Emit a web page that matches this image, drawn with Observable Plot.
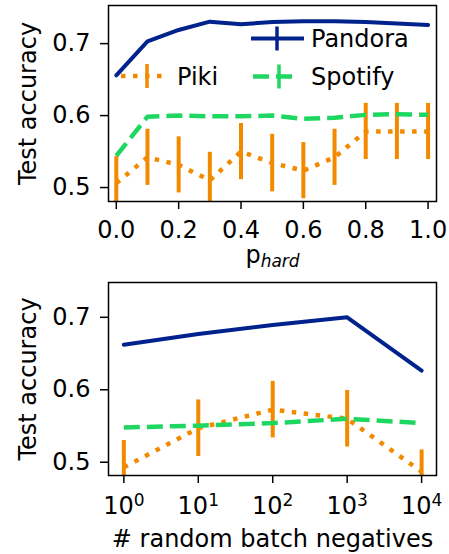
<!DOCTYPE html>
<html>
<head>
<meta charset="utf-8">
<script src="https://cdn.jsdelivr.net/npm/d3@7"></script>
<script src="https://cdn.jsdelivr.net/npm/@observablehq/plot@0.6"></script>
<style>
  html, body { margin: 0; padding: 0; background: #fff; }
  #chart { width: 449px; height: 554px; }
  #chart svg { display: block; }
</style>
</head>
<body>
<div id="chart"></div>
<script>
// ---------- data ----------
const pHard = [0.0, 0.1, 0.2, 0.3, 0.4, 0.5, 0.6, 0.7, 0.8, 0.9, 1.0];
const pandoraHard = [0.656, 0.703, 0.719, 0.7305, 0.727, 0.730, 0.731, 0.731, 0.730, 0.728, 0.726];
const spotifyHard = [0.544, 0.5985, 0.600, 0.599, 0.599, 0.600, 0.5955, 0.597, 0.601, 0.602, 0.601];
const pikiHard = [0.506, 0.542, 0.5315, 0.510, 0.550, 0.534, 0.5235, 0.542, 0.578, 0.578, 0.578];
const pikiHardErr = [0.037, 0.039, 0.039, 0.039, 0.039, 0.040, 0.039, 0.039, 0.039, 0.039, 0.039];

const negatives = [1, 10, 100, 1000, 10000];
const pandoraNeg = [0.662, 0.677, 0.6895, 0.700, 0.6265];
const spotifyNeg = [0.548, 0.5505, 0.554, 0.560, 0.554];
const pikiNeg = [0.493, 0.547, 0.5725, 0.560, 0.487];
const pikiNegErr = [0.037, 0.039, 0.039, 0.039, 0.030];

const yTicks = [0.5, 0.6, 0.7];
const xTicksHard = [0.0, 0.2, 0.4, 0.6, 0.8, 1.0];

const C_PANDORA = "#00228c";
const C_SPOTIFY = "#1ed760";
const C_PIKI = "#f28a00";
const FONT = "DejaVu Sans";

// ---------- helpers ----------
const rows = (xs, ys, errs) => xs.map((x, i) => ({x, y: ys[i], lo: errs ? ys[i] - errs[i] : null, hi: errs ? ys[i] + errs[i] : null}));

function seriesMarks(pand, piki, spot) {
  return [
    Plot.line(pand, {x: "x", y: "y", stroke: C_PANDORA, strokeWidth: 4, clip: true}),
    Plot.line(piki, {x: "x", y: "y", stroke: C_PIKI, strokeWidth: 4.5, strokeDasharray: "4.5,7.5", strokeLinecap: "butt", clip: true}),
    Plot.ruleX(piki, {x: "x", y1: "lo", y2: "hi", stroke: C_PIKI, strokeWidth: 4, clip: true}),
    Plot.line(spot, {x: "x", y: "y", stroke: C_SPOTIFY, strokeWidth: 4.5, strokeDasharray: "16,7", strokeLinecap: "butt", clip: true})
  ];
}

const common = {
  width: 449,
  marginLeft: 108,
  marginRight: 13,
  style: {fontFamily: FONT, fontSize: "24px", color: "black", background: "white", overflow: "visible"}
};

// ---------- top panel ----------
const topPlot = Plot.plot({
  ...common,
  height: 280,
  marginTop: 5,
  marginBottom: 79,
  x: {domain: [-0.025, 1.027]},
  y: {domain: [0.4806, 0.753]},
  marks: [
    ...seriesMarks(rows(pHard, pandoraHard), rows(pHard, pikiHard, pikiHardErr), rows(pHard, spotifyHard)),
    Plot.frame({stroke: "black", strokeWidth: 1.5}),
    Plot.axisY({ticks: yTicks, tickFormat: d => d.toFixed(1), tickSize: 8, tickPadding: 10, fontSize: 24, strokeWidth: 1.5, label: null}),
    Plot.axisX({ticks: xTicksHard, tickFormat: d => d.toFixed(1), tickSize: 8, tickPadding: 11, fontSize: 24, strokeWidth: 1.5, label: null}),
    Plot.text(["Test accuracy"], {frameAnchor: "left", rotate: -90, dx: -80, lineAnchor: "middle", textAnchor: "middle", fontSize: 24, fill: "black"}),
    Plot.text(["p"], {frameAnchor: "bottom", dy: 54, lineAnchor: "middle", textAnchor: "middle", fontSize: 24, fill: "black", ariaDescription: "xlabel-phard"})
  ]
});

// ---------- bottom panel ----------
const bottomPlot = Plot.plot({
  ...common,
  height: 274,
  marginTop: 2,
  marginBottom: 79,
  x: {type: "log", domain: [Math.pow(10, -0.206), Math.pow(10, 4.2)]},
  y: {domain: [0.4817, 0.748]},
  marks: [
    ...seriesMarks(rows(negatives, pandoraNeg), rows(negatives, pikiNeg, pikiNegErr), rows(negatives, spotifyNeg)),
    Plot.frame({stroke: "black", strokeWidth: 1.5}),
    Plot.axisY({ticks: yTicks, tickFormat: d => d.toFixed(1), tickSize: 8, tickPadding: 10, fontSize: 24, strokeWidth: 1.5, label: null}),
    Plot.axisX({ticks: negatives, tickFormat: d => String(Math.round(Math.log10(d))), tickSize: 8, tickPadding: 13, fontSize: 24, strokeWidth: 1.5, label: null}),
    Plot.text(["Test accuracy"], {frameAnchor: "left", rotate: -90, dx: -80, lineAnchor: "middle", textAnchor: "middle", fontSize: 24, fill: "black"}),
    Plot.text(["# random batch negatives"], {frameAnchor: "bottom", dy: 64, lineAnchor: "middle", textAnchor: "middle", fontSize: 24, fill: "black"})
  ]
});

const chart = document.getElementById("chart");
chart.appendChild(topPlot);
chart.appendChild(bottomPlot);

// p_hard subscript
d3.select(topPlot).selectAll('g[aria-description="xlabel-phard"] text').each(function() {
  const t = d3.select(this);
  t.text("p");
  t.append("tspan").attr("font-style", "italic").attr("font-size", 17).attr("dy", 4).text("hard");
});

// 10^k superscripts
d3.select(bottomPlot).selectAll('g[aria-label="x-axis tick label"] text').each(function() {
  const t = d3.select(this);
  const e = t.text();
  t.text("10");
  t.append("tspan").attr("font-size", 17).attr("dy", -8).text(e);
});

// legend (top panel)
const lg = d3.select(topPlot).append("g").attr("aria-label", "legend");
const legendItems = [
  {name: "Pandora", color: C_PANDORA, dash: null, w: 4, x1: 251, x2: 304, tx: 277, y: 38.5, textX: 311},
  {name: "Piki", color: C_PIKI, dash: "4.5,7.5", w: 4.5, x1: 121, x2: 167, tx: 147, y: 76, textX: 177},
  {name: "Spotify", color: C_SPOTIFY, dash: "16,7", w: 4.5, x1: 253, x2: 297, tx: 279, y: 76.5, textX: 311}
];
for (const it of legendItems) {
  lg.append("line").attr("x1", it.x1).attr("x2", it.x2).attr("y1", it.y).attr("y2", it.y)
    .attr("stroke", it.color).attr("stroke-width", it.w).attr("stroke-dasharray", it.dash);
  lg.append("line").attr("x1", it.tx).attr("x2", it.tx).attr("y1", it.y - 12).attr("y2", it.y + 12)
    .attr("stroke", it.color).attr("stroke-width", 3.5);
  lg.append("text").attr("x", it.textX).attr("y", it.y + 8.7).attr("font-size", 24)
    .attr("text-anchor", "start").attr("font-family", FONT).attr("fill", "black").text(it.name);
}
</script>
</body>
</html>
